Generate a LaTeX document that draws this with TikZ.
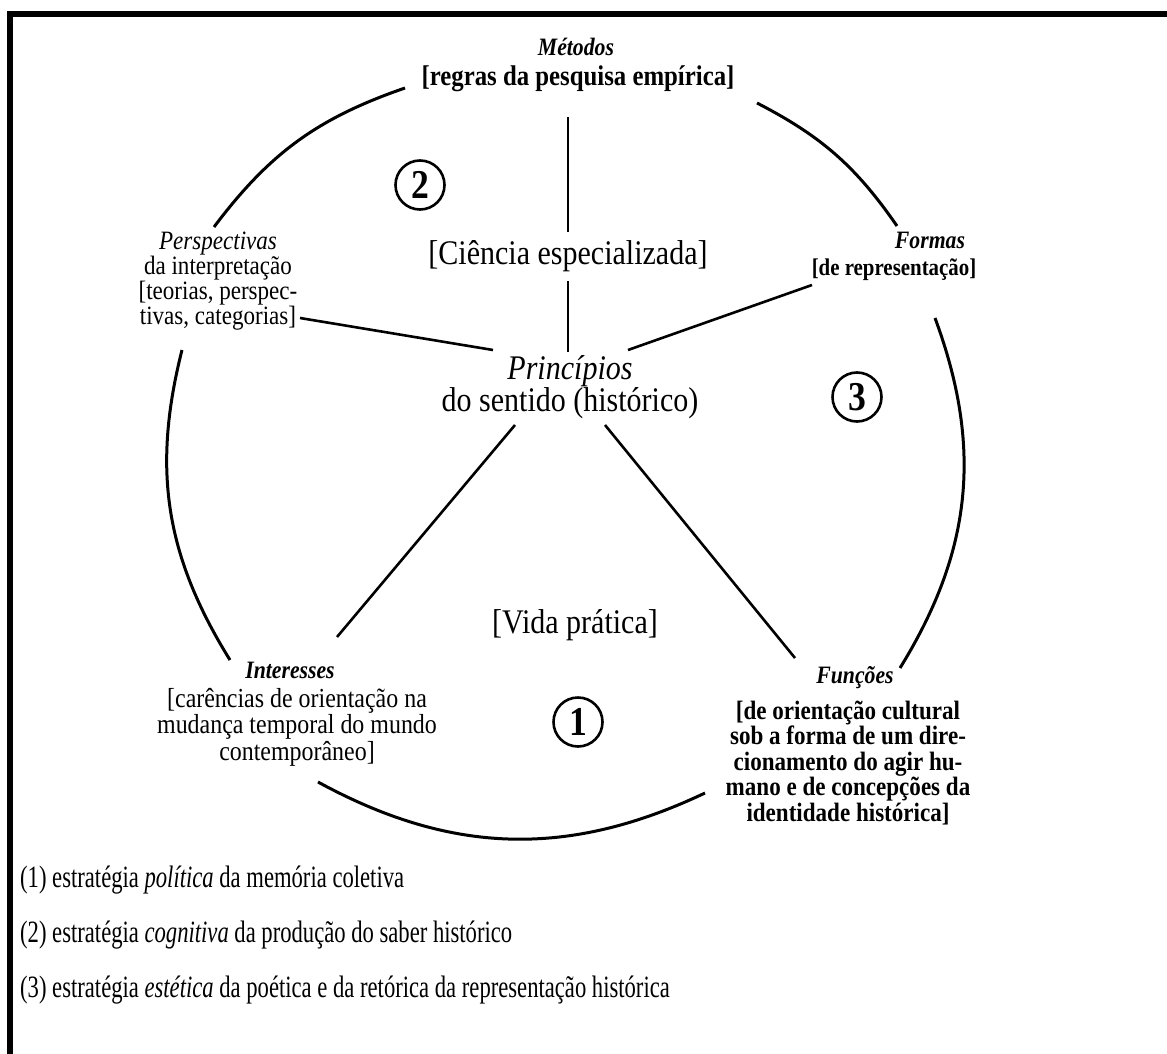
\documentclass[tikz,border=0pt]{standalone}
\usepackage{fontspec}
\setmainfont{Liberation Serif}[FakeStretch=0.87]
\newfontfamily\legendfont{Liberation Serif}[FakeStretch=0.73]
\begin{document}
\begin{tikzpicture}[x=1pt,y=-1pt,
  every node/.style={inner sep=0pt, align=center},
  head/.style={font=\fontsize{25}{27}\selectfont\bfseries\itshape},
  body/.style={font=\fontsize{26.5}{23.7}\selectfont},
  bodyb/.style={font=\fontsize{26.5}{25.5}\selectfont\bfseries},
  big/.style={font=\fontsize{34.5}{30}\selectfont},
  arcline/.style={line width=3pt},
  spoke/.style={line width=2.6pt},
  num/.style={circle, draw, line width=2.6pt, minimum size=49pt,
    font=\fontsize{41}{41}\selectfont\bfseries},
  legend/.style={anchor=west, font=\legendfont\fontsize{31}{31}\selectfont}
]
\useasboundingbox (0,0) rectangle (1167,1054);
\fill[white] (0,0) rectangle (1167,1054);
% frame along the top and left edges
\draw[line width=6pt] (10,1054) -- (10,14) -- (1167,14);

% labels
\node[head] (met) at (576,47) {Métodos};
\node[font=\fontsize{28.5}{28}\selectfont\bfseries] (regras) at (578,79) {{[}regras da pesquisa empírica{]}};
\node[body] (persp) at (218,281) {\textit{Perspectivas}\\da interpretação\\{[}teorias, perspec-\\tivas, categorias{]}};
\node[head] (formh) at (930,240) {Formas};
\node[font=\fontsize{24}{24}\selectfont\bfseries] (forma) at (894,270) {{[}de representação{]}};
\node[big] (cien) at (568,256) {{[}Ciência especializada{]}};
\node[big] (prin) at (570,387) {\textit{Princípios}\\do sentido (histórico)};
\node[big] (vida) at (575,625) {{[}Vida prática{]}};
\node[head] (interh) at (290,670) {Interesses};
\node[font=\fontsize{27.5}{26.5}\selectfont] (inter) at (297,727) {{[}carências de orientação na\\mudança temporal do mundo\\contemporâneo{]}};
\node[head] (funch) at (855,678) {Funções};
\node[bodyb] (func) at (848,763) {{[}de orientação cultural\\sob a forma de um dire-\\cionamento do agir hu-\\mano e de concepções da\\identidade histórica{]}};

% circled strategy numbers
\node[num] (n2) at (420,185) {2};
\node[num] (n3) at (857,397) {3};
\node[num] (n1) at (578,722) {1};

% connector ends
\coordinate (s1a) at (568,117); \coordinate (s1b) at (568,232);
\coordinate (s2a) at (568,281); \coordinate (s2b) at (568,352);
\coordinate (s3a) at (300,318); \coordinate (s3b) at (493,350);
\coordinate (s4a) at (812,285); \coordinate (s4b) at (628,350);
\coordinate (s5a) at (515,425); \coordinate (s5b) at (337,637);
\coordinate (s6a) at (605,425); \coordinate (s6b) at (795,658);

\coordinate (a1) at (405,88);  \coordinate (a2) at (214,227);
\coordinate (b1) at (757,103); \coordinate (b2) at (897,226);
\coordinate (c1) at (935,318); \coordinate (c2) at (900,668);
\coordinate (d1) at (182,350); \coordinate (d2) at (230,660);
\coordinate (e1) at (318,782); \coordinate (e2) at (705,793);

% spokes to the centre
\draw[spoke] (s1a) -- (s1b);
\draw[spoke] (s2a) -- (s2b);
\draw[spoke] (s3a) -- (s3b);
\draw[spoke] (s4a) -- (s4b);
\draw[spoke] (s5a) -- (s5b);
\draw[spoke] (s6a) -- (s6b);

% outer ring
\draw[arcline] (a1) to[bend right=17] (a2);
\draw[arcline] (b1) to[bend left=14] (b2);
\draw[arcline] (c1) to[bend left=26] (c2);
\draw[arcline] (d1) to[bend right=23] (d2);
\draw[arcline] (e1) to[bend right=27] (e2);

% legend
\node[legend] (l1) at (20,880) {(1) estratégia \textit{política} da memória coletiva};
\node[legend] (l2) at (20,935) {(2) estratégia \textit{cognitiva} da produção do saber histórico};
\node[legend] (l3) at (20,990) {(3) estratégia \textit{estética} da poética e da retórica da representação histórica};
\end{tikzpicture}
\end{document}
